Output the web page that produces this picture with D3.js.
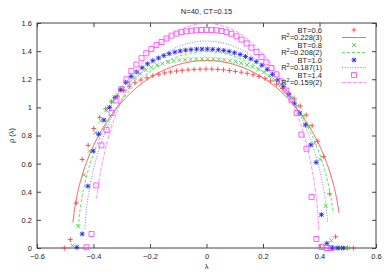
<!DOCTYPE html>
<html>
<head>
<meta charset="utf-8">
<script src="https://cdn.jsdelivr.net/npm/d3@7"></script>
<style>
  body { margin: 0; background: #fff; }
  svg { display: block; }
  text { font-family: "Liberation Sans", Arial, Helvetica, sans-serif; fill: #222; }
</style>
</head>
<body>
<div id="canvas"></div>
<script>
const xTicks = [-0.6, -0.4, -0.2, 0, 0.2, 0.4, 0.6];
const yTicks = [0, 0.2, 0.4, 0.6, 0.8, 1, 1.2, 1.4, 1.6];

// histogram points
const lamRed = [-0.503,-0.482,-0.461,-0.440,-0.419,-0.399,-0.378,-0.357,-0.336,-0.315,-0.294,-0.273,-0.253,-0.232,-0.211,-0.190,-0.169,-0.148,-0.127,-0.106,-0.086,-0.065,-0.044,-0.023,-0.002,0.019,0.040,0.060,0.081,0.102,0.123,0.144,0.165,0.186,0.207,0.227,0.248,0.269,0.290,0.311,0.332,0.353,0.374,0.394,0.415,0.436,0.457,0.478,0.499,0.520];
const rhoRed = [0.00,0.06,0.32,0.63,0.73,0.85,0.93,0.99,1.04,1.08,1.12,1.15,1.175,1.195,1.21,1.225,1.235,1.245,1.252,1.258,1.263,1.267,1.27,1.272,1.273,1.272,1.27,1.267,1.262,1.256,1.25,1.242,1.232,1.22,1.205,1.188,1.165,1.135,1.10,1.06,1.01,0.945,0.87,0.76,0.65,0.385,0.08,0,0,0];

const lamGreen = [-0.474,-0.454,-0.434,-0.414,-0.394,-0.375,-0.355,-0.335,-0.315,-0.295,-0.275,-0.255,-0.235,-0.215,-0.195,-0.175,-0.156,-0.136,-0.116,-0.096,-0.076,-0.056,-0.036,-0.016,0.004,0.024,0.043,0.063,0.083,0.103,0.123,0.143,0.163,0.183,0.203,0.223,0.243,0.262,0.282,0.302,0.322,0.342,0.362,0.382,0.402,0.422,0.442,0.462,0.481,0.501];
const rhoGreen = [0.017,0.155,0.52,0.69,0.82,0.905,0.98,1.04,1.09,1.135,1.175,1.21,1.24,1.265,1.285,1.30,1.312,1.322,1.33,1.335,1.339,1.342,1.344,1.345,1.345,1.344,1.342,1.338,1.332,1.325,1.315,1.302,1.288,1.27,1.25,1.225,1.195,1.16,1.12,1.07,1.01,0.94,0.865,0.745,0.63,0.30,0.054,0,0,0];

const lamBlue = [-0.459,-0.440,-0.420,-0.401,-0.382,-0.363,-0.343,-0.324,-0.305,-0.286,-0.267,-0.247,-0.228,-0.209,-0.190,-0.170,-0.151,-0.132,-0.112,-0.093,-0.074,-0.055,-0.035,-0.016,0.003,0.022,0.042,0.061,0.080,0.099,0.119,0.138,0.157,0.176,0.196,0.215,0.234,0.253,0.273,0.292,0.311,0.330,0.350,0.369,0.388,0.407,0.426,0.446,0.465,0.484];
const rhoBlue = [0.005,0.10,0.44,0.69,0.81,0.91,1.00,1.07,1.125,1.178,1.22,1.252,1.282,1.31,1.332,1.351,1.368,1.382,1.393,1.401,1.407,1.411,1.414,1.415,1.415,1.413,1.41,1.405,1.398,1.388,1.376,1.362,1.345,1.325,1.30,1.27,1.235,1.195,1.15,1.09,1.03,0.96,0.875,0.733,0.609,0.237,0.033,0,0,0];

const lamPink = [-0.425,-0.407,-0.390,-0.372,-0.354,-0.336,-0.319,-0.301,-0.283,-0.266,-0.248,-0.230,-0.213,-0.195,-0.177,-0.159,-0.142,-0.124,-0.106,-0.089,-0.071,-0.053,-0.036,-0.018,0.000,0.018,0.035,0.053,0.071,0.088,0.106,0.124,0.142,0.159,0.177,0.195,0.212,0.230,0.248,0.265,0.283,0.301,0.319,0.336,0.354,0.372,0.389,0.407,0.425,0.442];
const rhoPink = [0.005,0.10,0.445,0.73,0.84,0.96,1.05,1.13,1.20,1.26,1.305,1.35,1.385,1.415,1.443,1.465,1.49,1.51,1.525,1.535,1.541,1.545,1.548,1.55,1.551,1.55,1.548,1.543,1.535,1.523,1.505,1.482,1.455,1.425,1.393,1.358,1.32,1.28,1.235,1.185,1.12,1.05,0.96,0.806,0.706,0.363,0.064,0.007,0,0];

// fitted curves
const fitLamRed = [-0.473,-0.465,-0.46,-0.45,-0.44,-0.42,-0.40,-0.35,-0.30,-0.25,-0.20,-0.15,-0.10,-0.05,0,0.05,0.10,0.15,0.20,0.25,0.30,0.35,0.40,0.42,0.44,0.45,0.46,0.465,0.469];
const fitRhoRed = [0.18,0.303,0.358,0.446,0.518,0.634,0.728,0.907,1.037,1.136,1.211,1.266,1.304,1.326,1.333,1.326,1.304,1.266,1.211,1.136,1.037,0.907,0.728,0.634,0.518,0.446,0.358,0.303,0.25];

const fitLamGreen = [-0.4535,-0.45,-0.44,-0.43,-0.42,-0.40,-0.35,-0.30,-0.25,-0.20,-0.15,-0.10,-0.05,0,0.05,0.10,0.15,0.20,0.25,0.30,0.35,0.40,0.42,0.43,0.44,0.449];
const fitRhoGreen = [0.148,0.227,0.367,0.465,0.544,0.671,0.895,1.051,1.168,1.255,1.318,1.362,1.388,1.396,1.388,1.362,1.318,1.255,1.168,1.051,0.895,0.671,0.544,0.465,0.367,0.245];

const fitLamBlue = [-0.4305,-0.425,-0.42,-0.41,-0.40,-0.38,-0.35,-0.30,-0.25,-0.20,-0.15,-0.10,-0.05,0,0.05,0.10,0.15,0.20,0.25,0.30,0.35,0.38,0.40,0.41,0.42,0.429];
const fitRhoBlue = [0.139,0.272,0.351,0.468,0.559,0.703,0.865,1.060,1.201,1.305,1.381,1.432,1.462,1.472,1.462,1.432,1.381,1.305,1.201,1.060,0.865,0.703,0.559,0.468,0.351,0.185];

const fitLamPink = [-0.389,-0.38,-0.37,-0.35,-0.30,-0.25,-0.20,-0.15,-0.10,-0.05,0,0.05,0.10,0.15,0.20,0.25,0.30,0.35,0.37,0.38,0.39,0.395,0.3975];
const fitRhoPink = [0.351,0.484,0.595,0.765,1.052,1.244,1.381,1.479,1.546,1.584,1.597,1.584,1.546,1.479,1.381,1.244,1.052,0.765,0.595,0.484,0.333,0.218,0.126];

const pointLabels = ["BT=0.6", "BT=0.8", "BT=1.0", "BT=1.4"];
const fitValues = ["0.228(3)", "0.208(2)", "0.187(1)", "0.159(2)"];

const W = 389, H = 273;
const margin = { left: 37, right: 13, top: 23, bottom: 25 };

const svg = d3.select("#canvas").append("svg")
  .attr("width", W)
  .attr("height", H);

const x = d3.scaleLinear().domain([-0.6, 0.6]).range([margin.left, W - margin.right]);
const y = d3.scaleLinear().domain([0, 1.6]).range([H - margin.bottom, margin.top]);

const fmt = (d) => d3.format("")(+d.toFixed(1));

// axes, ticks pointing inward on all four sides
const axisStyle = (g) => {
  g.select(".domain").remove();
  g.selectAll(".tick line").attr("stroke", "#444");
  g.selectAll(".tick text").attr("fill", "#222").attr("font-size", "7.5px")
    .attr("font-family", "'Liberation Sans', Arial, sans-serif");
};

svg.append("g")
  .attr("transform", `translate(0,${y(0)})`)
  .call(d3.axisBottom(x).tickValues(xTicks).tickSize(-4).tickPadding(6).tickFormat(fmt))
  .call(axisStyle);
svg.append("g")
  .attr("transform", `translate(0,${y(1.6)})`)
  .call(d3.axisTop(x).tickValues(xTicks).tickSize(-4).tickFormat(""))
  .call(axisStyle);
svg.append("g")
  .attr("transform", `translate(${x(-0.6)},0)`)
  .call(d3.axisLeft(y).tickValues(yTicks).tickSize(-4).tickPadding(5).tickFormat(fmt))
  .call(axisStyle);
svg.append("g")
  .attr("transform", `translate(${x(0.6)},0)`)
  .call(d3.axisRight(y).tickValues(yTicks).tickSize(-4).tickFormat(""))
  .call(axisStyle);

svg.append("rect")
  .attr("x", x(-0.6)).attr("y", y(1.6))
  .attr("width", x(0.6) - x(-0.6)).attr("height", y(0) - y(1.6))
  .attr("fill", "none").attr("stroke", "#444").attr("stroke-width", 1);

svg.append("text")
  .attr("x", (x(-0.6) + x(0.6)) / 2).attr("y", 14)
  .attr("text-anchor", "middle").attr("font-size", "7.5px")
  .text("N=40, CT=0.15");

svg.append("text")
  .attr("x", (x(-0.6) + x(0.6)) / 2).attr("y", 269)
  .attr("text-anchor", "middle").attr("font-size", "7.5px")
  .text("λ");

svg.append("text")
  .attr("transform", `translate(14,${(y(0) + y(1.6)) / 2}) rotate(-90)`)
  .attr("text-anchor", "middle").attr("font-size", "7.5px")
  .text("ρ (λ)");

const markers = {
  plus: "M-2.5,0H2.5M0,-2.5V2.5",
  cross: "M-2,-2L2,2M-2,2L2,-2",
  star: "M-2.5,0H2.5M0,-2.5V2.5M-2,-2L2,2M-2,2L2,-2",
  square: "M-2.5,-2.5H2.5V2.5H-2.5Z"
};

const series = [
  { lam: lamRed, rho: rhoRed, fl: fitLamRed, fr: fitRhoRed, color: "#ff3a3a", lcolor: "#ff4a4a", mark: "plus", dash: null },
  { lam: lamGreen, rho: rhoGreen, fl: fitLamGreen, fr: fitRhoGreen, color: "#3ad43a", lcolor: "#45e045", mark: "cross", dash: "3,2" },
  { lam: lamBlue, rho: rhoBlue, fl: fitLamBlue, fr: fitRhoBlue, color: "#2020f0", lcolor: "#6a6aff", mark: "star", dash: "1,1.6" },
  { lam: lamPink, rho: rhoPink, fl: fitLamPink, fr: fitRhoPink, color: "#ff44ff", lcolor: "#ff80ff", mark: "square", dash: "4,1.5" }
];

const line = d3.line()
  .x((d) => x(d[0]))
  .y((d) => y(d[1]))
  .curve(d3.curveMonotoneX);

const legendX = 322, legendY = 30, rowH = 7.5;
const sampleX0 = 342, sampleX1 = 366;

series.forEach((s, i) => {
  svg.append("g")
    .selectAll("path")
    .data(d3.zip(s.lam, s.rho))
    .enter()
    .append("path")
    .attr("d", markers[s.mark])
    .attr("transform", (d) => `translate(${x(d[0])},${y(d[1])})`)
    .attr("fill", "none")
    .attr("stroke", s.color)
    .attr("stroke-width", 0.85);

  svg.append("path")
    .datum(d3.zip(s.fl, s.fr))
    .attr("d", line)
    .attr("fill", "none")
    .attr("stroke", s.lcolor)
    .attr("stroke-width", 0.85)
    .attr("stroke-dasharray", s.dash);

  // legend rows
  const yp = legendY + rowH * 2 * i;
  const yl = yp + rowH;

  svg.append("text")
    .attr("x", legendX).attr("y", yp + 2.5)
    .attr("text-anchor", "end").attr("font-size", "7.5px")
    .text(pointLabels[i]);
  svg.append("path")
    .attr("d", markers[s.mark])
    .attr("transform", `translate(${(sampleX0 + sampleX1) / 2},${yp})`)
    .attr("fill", "none").attr("stroke", s.color).attr("stroke-width", 0.85);

  const t = svg.append("text")
    .attr("x", legendX).attr("y", yl + 2.5)
    .attr("text-anchor", "end").attr("font-size", "7.5px");
  t.append("tspan").text("R");
  t.append("tspan").attr("dy", -3).attr("font-size", "5.5px").text("2");
  t.append("tspan").attr("dy", 3).text("=" + fitValues[i]);

  svg.append("line")
    .attr("x1", sampleX0).attr("x2", sampleX1)
    .attr("y1", yl).attr("y2", yl)
    .attr("stroke", s.lcolor).attr("stroke-width", 0.85)
    .attr("stroke-dasharray", s.dash);
});
</script>
</body>
</html>
